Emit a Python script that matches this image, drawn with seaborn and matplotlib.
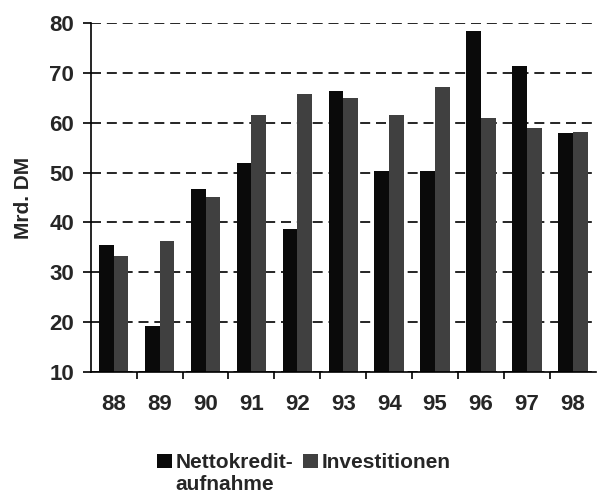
import pandas as pd
import numpy as np
import seaborn as sns
import matplotlib.pyplot as plt
from matplotlib.ticker import FixedLocator

# values (Mrd. DM)
jahre = ['88', '89', '90', '91', '92', '93', '94', '95', '96', '97', '98']
nettokredit = [35.5, 19.3, 46.7, 52.0, 38.7, 66.3, 50.3, 50.3, 78.3, 71.3, 58.0]
investitionen = [33.3, 36.2, 45.0, 61.5, 65.7, 65.0, 61.5, 67.2, 61.0, 59.0, 58.2]
serien = ['Nettokredit-', 'Investitionen']
farben = ['#0a0a0a', '#404040']

df = pd.DataFrame({
    'Jahr': jahre * 2,
    'Wert': nettokredit + investitionen,
    'Serie': [serien[0]] * len(jahre) + [serien[1]] * len(jahre),
})

sns.set_style('white')
plt.rcParams['font.family'] = ['Liberation Sans', 'DejaVu Sans']

fig = plt.figure(figsize=(5.97, 4.99), dpi=100)
ax = fig.add_axes([0.152, 0.2545, 0.846, 0.6995])

sns.barplot(data=df, x='Jahr', y='Wert', hue='Serie', palette=farben,
            width=0.64, gap=0, saturation=1, edgecolor='none', ax=ax,
            legend=True)

ax.set_ylim(10, 80)
ax.set_xlim(-0.5, len(jahre) - 0.5)
ax.set_yticks(range(10, 81, 10))
ax.yaxis.grid(True, color='black', linestyle=(0, (6, 3.5)), linewidth=1.2)
ax.set_axisbelow(True)

for s in ['top', 'right']:
    ax.spines[s].set_visible(False)
for s in ['left', 'bottom']:
    ax.spines[s].set_color('black')
    ax.spines[s].set_linewidth(1.2)

# tick marks between categories, labels centred without marks
ax.xaxis.set_minor_locator(FixedLocator(np.arange(0.5, len(jahre) - 0.5, 1)))
ax.tick_params(axis='x', which='major', length=0, pad=16, labelsize=16)
ax.tick_params(axis='x', which='minor', length=5, width=1.2, direction='out',
               color='black', bottom=True)
ax.tick_params(axis='y', length=6, width=1.2, direction='out', color='black',
               left=True, labelsize=16, pad=6)
for lab in ax.get_xticklabels() + ax.get_yticklabels():
    lab.set_fontweight('bold')

ax.set_xlabel('')
ax.set_ylabel('Mrd. DM', fontsize=15, fontweight='bold', labelpad=12)

handles, labels = ax.get_legend_handles_labels()
ax.get_legend().remove()
leg = fig.legend(handles, labels, loc='upper center',
                 bbox_to_anchor=(0.509, 0.092), ncol=2, frameon=False,
                 prop={'weight': 'bold', 'size': 15},
                 handlelength=0.7, handleheight=0.7, handletextpad=0.2,
                 columnspacing=0.45, borderaxespad=0, borderpad=0)

# second line of the first legend label, placed under its first line
fig.canvas.draw()
bb = leg.get_texts()[0].get_window_extent().transformed(fig.transFigure.inverted())
fig.text(bb.x0, bb.y0 - 0.005, 'aufnahme', ha='left', va='top',
         fontsize=15, fontweight='bold')

fig.savefig('out.png', dpi=100)
